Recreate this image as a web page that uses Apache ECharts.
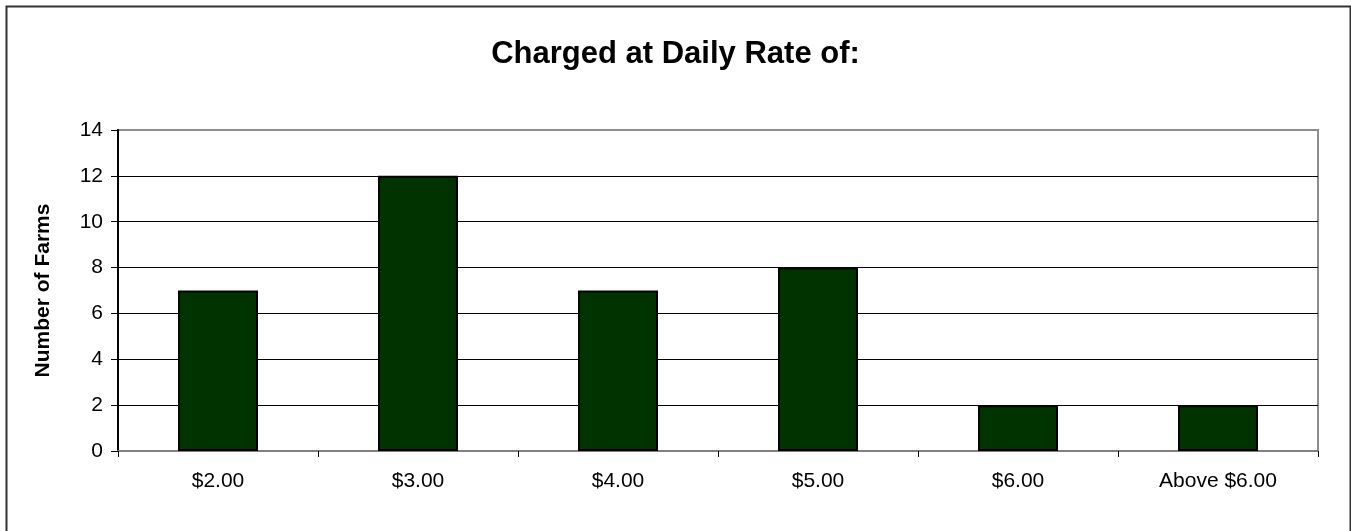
<!DOCTYPE html>
<html>
<head>
<meta charset="utf-8">
<script src="https://cdn.jsdelivr.net/npm/echarts@6/dist/echarts.min.js"></script>
<style>
  html, body { margin: 0; padding: 0; background: #fff; }
  #chart { width: 1351px; height: 531px; }
</style>
</head>
<body>
<div id="chart"></div>
<script>
// Daily rate brackets and how many farms charge each
const rateCategories = ['$2.00', '$3.00', '$4.00', '$5.00', '$6.00', 'Above $6.00'];
const farmCounts = [7, 12, 7, 8, 2, 2];
const yTicks = { min: 0, max: 14, interval: 2 };

const FONT = '"Liberation Sans", Arial, sans-serif';

const chart = echarts.init(document.getElementById('chart'), null, { renderer: 'canvas' });

chart.setOption({
  animation: false,
  backgroundColor: '#fff',
  title: {
    text: 'Charged at Daily Rate of:',
    left: 'center',
    top: 34,
    textStyle: { fontFamily: FONT, fontSize: 31, fontWeight: 'bold', color: '#000' }
  },
  grid: {
    left: 118, right: 33, top: 130, bottom: 80,
    show: true,
    borderColor: '#8c8c8c',
    borderWidth: 2,
    backgroundColor: '#fff'
  },
  xAxis: {
    type: 'category',
    data: rateCategories,
    boundaryGap: true,
    axisLine: { show: true, lineStyle: { color: '#808080', width: 2 } },
    axisTick: { show: true, length: 6, alignWithLabel: false, lineStyle: { color: '#000', width: 1 } },
    axisLabel: { fontFamily: FONT, fontSize: 21, color: '#000', margin: 20 },
    splitLine: { show: false }
  },
  yAxis: {
    type: 'value',
    min: yTicks.min,
    max: yTicks.max,
    interval: yTicks.interval,
    name: 'Number of Farms',
    nameLocation: 'middle',
    nameGap: 64,
    nameRotate: 90,
    nameTextStyle: { fontFamily: FONT, fontSize: 21, fontWeight: 'bold', color: '#000' },
    axisLine: { show: true, lineStyle: { color: '#000', width: 2 } },
    axisTick: { show: true, length: 7, lineStyle: { color: '#000', width: 1 } },
    axisLabel: { fontFamily: FONT, fontSize: 21, color: '#000', margin: 15 },
    splitLine: { show: true, showMinLine: false, showMaxLine: false, lineStyle: { color: '#000', width: 1 } }
  },
  series: [{
    type: 'bar',
    data: farmCounts,
    barWidth: '40%',
    itemStyle: { color: '#003300', borderColor: '#000', borderWidth: 2 }
  }],
  graphic: [{
    type: 'rect',
    left: 4, top: 4,
    shape: { width: 1344, height: 540 },
    style: { fill: 'none', stroke: '#333', lineWidth: 2 },
    silent: true
  }]
});
</script>
</body>
</html>
